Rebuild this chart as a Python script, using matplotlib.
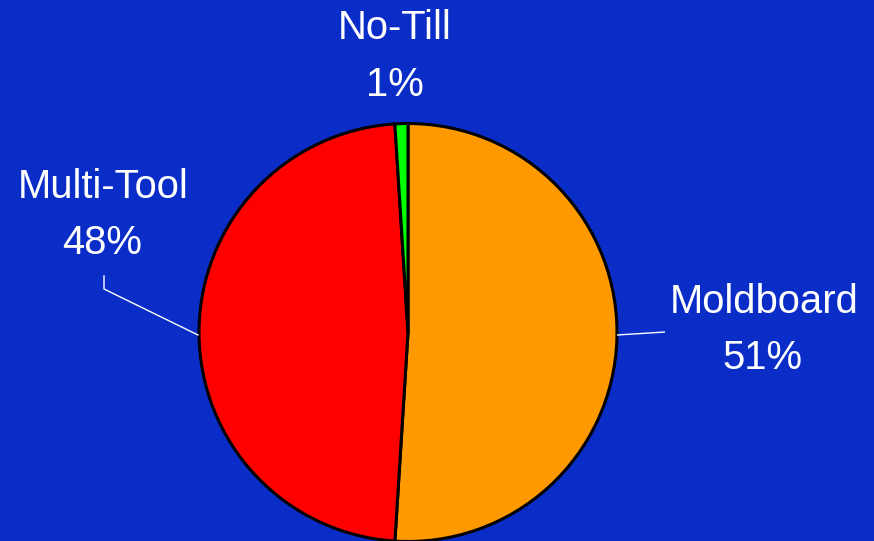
import matplotlib
matplotlib.use("Agg")
import matplotlib.pyplot as plt

# tillage share
labels = ["Moldboard", "Multi-Tool", "No-Till"]
shares = [51, 48, 1]
colors = ["#ff9900", "#ff0000", "#00ff00"]

W, H = 874, 541
bg = "#0a2dc8"

fig = plt.figure(figsize=(W / 100, H / 100), dpi=100, facecolor=bg)
ax = fig.add_axes([0, 0, 1, 1])
ax.set_facecolor(bg)

# pie drawn in pixel units, starting at 12 o'clock, clockwise
ax.pie(shares, colors=colors, startangle=90, counterclock=False,
       center=(408, H - 332.5), radius=209, frame=True,
       wedgeprops=dict(edgecolor="black", linewidth=2.2))
ax.set_xlim(0, W)
ax.set_ylim(0, H)
ax.set_aspect("equal")
ax.axis("off")

font = dict(family=["Liberation Sans", "DejaVu Sans"], fontsize=28.8,
            color="white", ha="center", va="center")

# label positions (pixels from top-left): name line, percent line
label_pos = {
    "Moldboard": (764, 302, 762, 358),
    "Multi-Tool": (103, 187, 102, 243),
    "No-Till": (395, 28, 395, 85),
}
for name, val in zip(labels, shares):
    x1, y1, x2, y2 = label_pos[name]
    ax.text(x1, H - y1, name, **font)
    ax.text(x2, H - y2, "{}%".format(val), **font)

# leader lines
ax.plot([617, 665], [H - 335, H - 332], color="white", lw=1, solid_capstyle="butt")
ax.plot([198, 104, 104], [H - 335, H - 289, H - 276], color="white", lw=1)

fig.savefig("out.png", dpi=100, facecolor=bg)
